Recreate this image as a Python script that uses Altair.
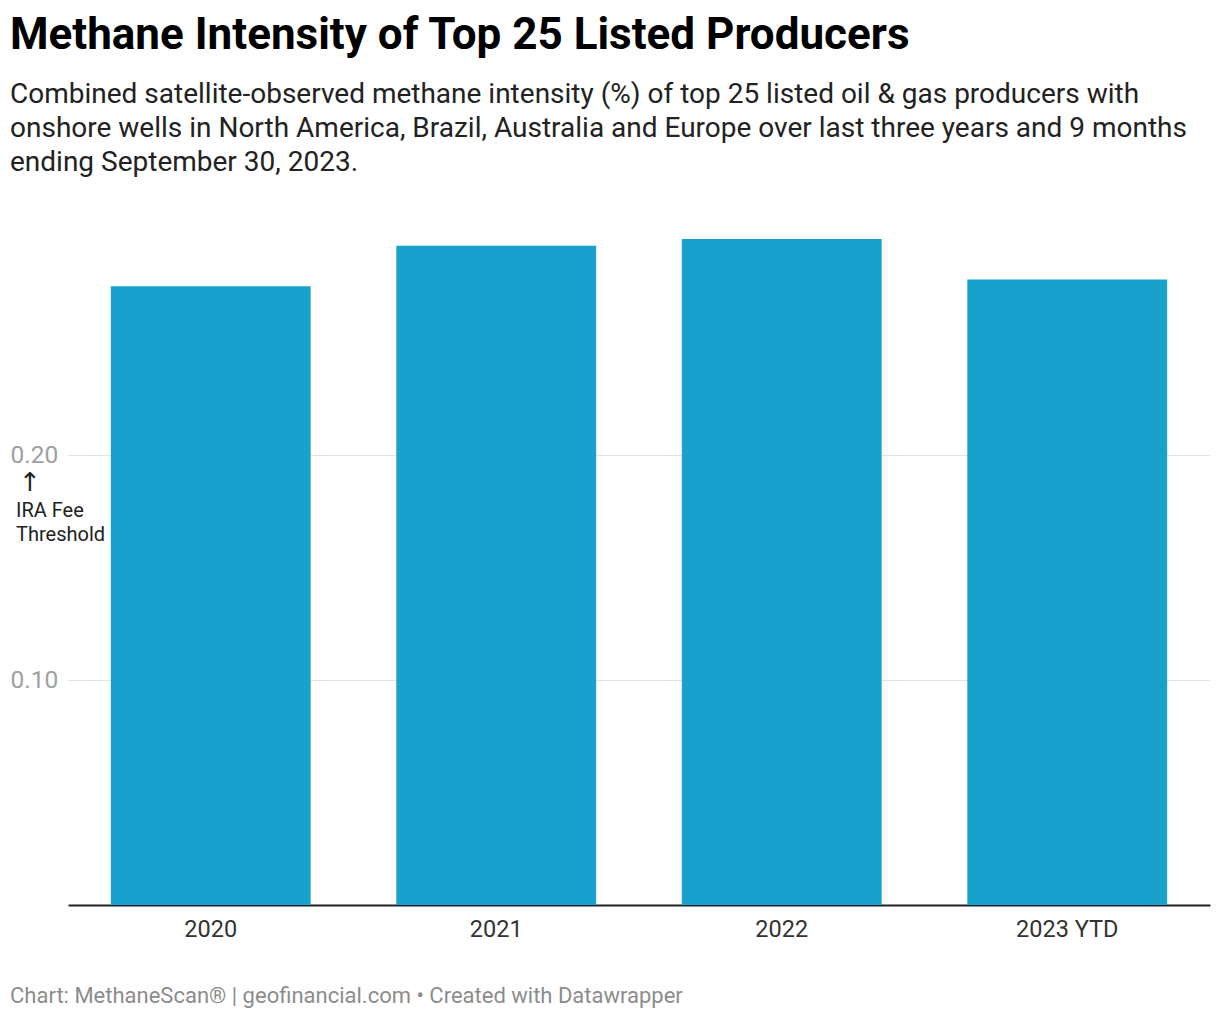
import altair as alt
import pandas as pd

years = ["2020", "2021", "2022", "2023 YTD"]
intensity = [0.275, 0.293, 0.296, 0.278]
y_ticks = [0.1, 0.2]

title_text = "Methane Intensity of Top 25 Listed Producers"
subtitle_lines = [
    "Combined satellite-observed methane intensity (%) of top 25 listed oil & gas producers with",
    "onshore wells in North America, Brazil, Australia and Europe over last three years and 9 months",
    "ending September 30, 2023.",
]
footer_text = "Chart: MethaneScan® | geofinancial.com • Created with Datawrapper"
threshold_value = 0.2
threshold_label = ["IRA Fee", "Threshold"]

FONT = "Roboto"
W, H = 1142, 675

df = pd.DataFrame({"year": years, "value": intensity})

base = alt.Chart(df)

bars = base.mark_bar(color="#18a1cd").encode(
    x=alt.X(
        "year:N",
        sort=years,
        title=None,
        scale=alt.Scale(paddingInner=0.3, paddingOuter=0.15),
        axis=alt.Axis(
            labelAngle=0,
            labelFont=FONT,
            labelFontSize=23.5,
            labelColor="#333333",
            labelPadding=12,
            ticks=False,
            domainColor="#222222",
            domainWidth=2,
            grid=False,
        ),
    ),
    y=alt.Y(
        "value:Q",
        title=None,
        scale=alt.Scale(domain=[0, 0.3], nice=False),
        axis=alt.Axis(
            values=y_ticks,
            format=".2f",
            orient="left",
            labelAlign="left",
            labelBaseline="middle",
            labelPadding=58,
            labelFont=FONT,
            labelFontSize=24.5,
            labelColor="#a0a0a0",
            ticks=False,
            domain=False,
            grid=True,
            gridColor="#e3e3e3",
            gridWidth=1,
        ),
    ),
)

arrow = alt.Chart(pd.DataFrame({"v": [threshold_value]})).mark_text(
    text="↑", font="DejaVu Sans", fontSize=26, color="#222222", align="center", baseline="middle", dy=28
).encode(x=alt.value(-38), y=alt.Y("v:Q"))

label = alt.Chart(pd.DataFrame({"v": [threshold_value]})).mark_text(
    text=threshold_label, font=FONT, fontSize=20, color="#222222", align="left",
    baseline="alphabetic", lineHeight=24, dy=62
).encode(x=alt.value(-52), y=alt.Y("v:Q"))

footer = alt.Chart(pd.DataFrame({"t": [footer_text]})).mark_text(
    font=FONT, fontSize=22, color="#8c8c8c", align="left", baseline="alphabetic"
).encode(text="t:N", x=alt.value(-58), y=alt.value(H + 98))

chart = (
    alt.layer(bars, arrow, label, footer)
    .properties(
        width=W,
        height=H,
        padding={"left": 2, "top": 6, "right": 2, "bottom": 20},
        title=alt.TitleParams(
            text=title_text,
            subtitle=subtitle_lines,
            anchor="start",
            frame="bounds",
            font=FONT,
            fontSize=44,
            fontWeight="bold",
            color="#000000",
            subtitleFont=FONT,
            subtitleFontSize=28,
            subtitleColor="#222222",
            subtitleLineHeight=34,
            subtitlePadding=23,
            offset=53,
        ),
    )
    .configure_view(stroke=None)
)

chart.save("out.html", embed_options={"renderer": "svg", "actions": False})
